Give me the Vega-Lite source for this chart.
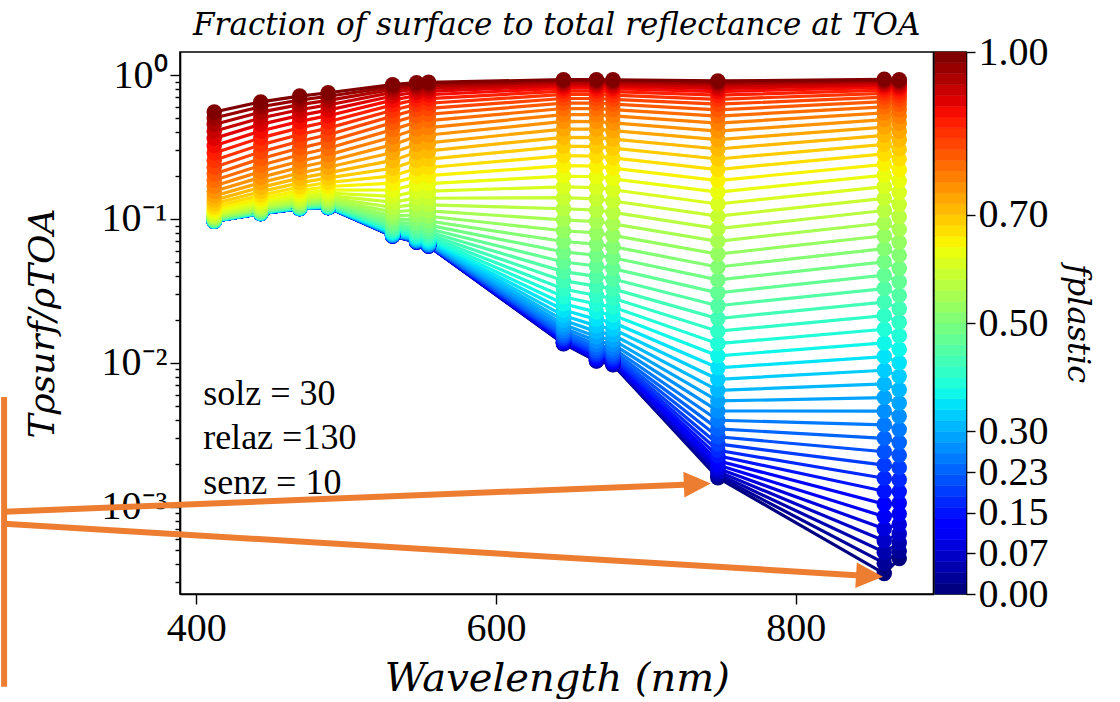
{
  "$schema": "https://vega.github.io/schema/vega-lite/v6.json",
  "background": "white",
  "padding": {"left": 0, "top": 9, "right": 30, "bottom": 0},
  "bounds": "flush",
  "spacing": 1,
  "config": {
    "font": "Liberation Serif",
    "view": {"stroke": "black", "strokeWidth": 1.6},
    "axis": {
      "grid": false,
      "domainColor": "black",
      "domainWidth": 1.6,
      "tickColor": "black",
      "tickWidth": 1.4,
      "labelColor": "black",
      "labelFont": "Liberation Serif",
      "labelFontSize": 40,
      "labelFlush": false,
      "labelOverlap": false,
      "titleColor": "black",
      "titleFont": "DejaVu Serif",
      "titleFontStyle": "italic",
      "titleFontWeight": "normal"
    }
  },
  "datasets": {
    "curves": [
      {"f":0,"wl":412,"r":0.09641},{"f":0,"wl":443,"r":0.10897},{"f":0,"wl":469,"r":0.11801},{"f":0,"wl":488,"r":0.12003},{"f":0,"wl":531,"r":0.07621},{"f":0,"wl":547,"r":0.06916},{"f":0,"wl":555,"r":0.0649},{"f":0,"wl":645,"r":0.013602},{"f":0,"wl":667,"r":0.010303},{"f":0,"wl":678,"r":0.009705},{"f":0,"wl":748,"r":0.0015905},{"f":0,"wl":859,"r":0.00034388},{"f":0,"wl":869,"r":0.00043681},
      {"f":0.0204,"wl":412,"r":0.09642},{"f":0.0204,"wl":443,"r":0.10898},{"f":0.0204,"wl":469,"r":0.11802},{"f":0.0204,"wl":488,"r":0.12004},{"f":0.0204,"wl":531,"r":0.07623},{"f":0.0204,"wl":547,"r":0.06919},{"f":0.0204,"wl":555,"r":0.06493},{"f":0.0204,"wl":645,"r":0.013659},{"f":0.0204,"wl":667,"r":0.01036},{"f":0.0204,"wl":678,"r":0.00976},{"f":0.0204,"wl":748,"r":0.0016349},{"f":0.0204,"wl":859,"r":0.00040628},{"f":0.0204,"wl":869,"r":0.00049251},
      {"f":0.0408,"wl":412,"r":0.09642},{"f":0.0408,"wl":443,"r":0.10898},{"f":0.0408,"wl":469,"r":0.11803},{"f":0.0408,"wl":488,"r":0.12005},{"f":0.0408,"wl":531,"r":0.07626},{"f":0.0408,"wl":547,"r":0.06923},{"f":0.0408,"wl":555,"r":0.06497},{"f":0.0408,"wl":645,"r":0.013729},{"f":0.0408,"wl":667,"r":0.01043},{"f":0.0408,"wl":678,"r":0.009827},{"f":0.0408,"wl":748,"r":0.0016905},{"f":0.0408,"wl":859,"r":0.00048427},{"f":0.0408,"wl":869,"r":0.00056213},
      {"f":0.0612,"wl":412,"r":0.09643},{"f":0.0612,"wl":443,"r":0.10899},{"f":0.0612,"wl":469,"r":0.11804},{"f":0.0612,"wl":488,"r":0.12007},{"f":0.0612,"wl":531,"r":0.0763},{"f":0.0612,"wl":547,"r":0.06927},{"f":0.0612,"wl":555,"r":0.06502},{"f":0.0612,"wl":645,"r":0.013817},{"f":0.0612,"wl":667,"r":0.010519},{"f":0.0612,"wl":678,"r":0.009914},{"f":0.0612,"wl":748,"r":0.00176},{"f":0.0612,"wl":859,"r":0.00058173},{"f":0.0612,"wl":869,"r":0.00064914},
      {"f":0.0816,"wl":412,"r":0.09644},{"f":0.0816,"wl":443,"r":0.10901},{"f":0.0816,"wl":469,"r":0.11806},{"f":0.0816,"wl":488,"r":0.12009},{"f":0.0816,"wl":531,"r":0.07634},{"f":0.0816,"wl":547,"r":0.06933},{"f":0.0816,"wl":555,"r":0.06508},{"f":0.0816,"wl":645,"r":0.013927},{"f":0.0816,"wl":667,"r":0.01063},{"f":0.0816,"wl":678,"r":0.01002},{"f":0.0816,"wl":748,"r":0.0018468},{"f":0.0816,"wl":859,"r":0.00070352},{"f":0.0816,"wl":869,"r":0.00075788},
      {"f":0.102,"wl":412,"r":0.09644},{"f":0.102,"wl":443,"r":0.10902},{"f":0.102,"wl":469,"r":0.11808},{"f":0.102,"wl":488,"r":0.12011},{"f":0.102,"wl":531,"r":0.07639},{"f":0.102,"wl":547,"r":0.0694},{"f":0.102,"wl":555,"r":0.06516},{"f":0.102,"wl":645,"r":0.014065},{"f":0.102,"wl":667,"r":0.010769},{"f":0.102,"wl":678,"r":0.010154},{"f":0.102,"wl":748,"r":0.0019553},{"f":0.102,"wl":859,"r":0.00085574},{"f":0.102,"wl":869,"r":0.00089376},
      {"f":0.1224,"wl":412,"r":0.09646},{"f":0.1224,"wl":443,"r":0.10904},{"f":0.1224,"wl":469,"r":0.1181},{"f":0.1224,"wl":488,"r":0.12014},{"f":0.1224,"wl":531,"r":0.07646},{"f":0.1224,"wl":547,"r":0.06949},{"f":0.1224,"wl":555,"r":0.06525},{"f":0.1224,"wl":645,"r":0.014237},{"f":0.1224,"wl":667,"r":0.010942},{"f":0.1224,"wl":678,"r":0.01032},{"f":0.1224,"wl":748,"r":0.0020908},{"f":0.1224,"wl":859,"r":0.0010459},{"f":0.1224,"wl":869,"r":0.0010636},
      {"f":0.1429,"wl":412,"r":0.09647},{"f":0.1429,"wl":443,"r":0.10906},{"f":0.1429,"wl":469,"r":0.11813},{"f":0.1429,"wl":488,"r":0.12018},{"f":0.1429,"wl":531,"r":0.07655},{"f":0.1429,"wl":547,"r":0.0696},{"f":0.1429,"wl":555,"r":0.06537},{"f":0.1429,"wl":645,"r":0.014452},{"f":0.1429,"wl":667,"r":0.011158},{"f":0.1429,"wl":678,"r":0.010528},{"f":0.1429,"wl":748,"r":0.0022602},{"f":0.1429,"wl":859,"r":0.0012836},{"f":0.1429,"wl":869,"r":0.0012758},
      {"f":0.1633,"wl":412,"r":0.09649},{"f":0.1633,"wl":443,"r":0.10909},{"f":0.1633,"wl":469,"r":0.11817},{"f":0.1633,"wl":488,"r":0.12023},{"f":0.1633,"wl":531,"r":0.07666},{"f":0.1633,"wl":547,"r":0.06975},{"f":0.1633,"wl":555,"r":0.06552},{"f":0.1633,"wl":645,"r":0.01472},{"f":0.1633,"wl":667,"r":0.011428},{"f":0.1633,"wl":678,"r":0.010788},{"f":0.1633,"wl":748,"r":0.0024719},{"f":0.1633,"wl":859,"r":0.0015805},{"f":0.1633,"wl":869,"r":0.0015409},
      {"f":0.1837,"wl":412,"r":0.09651},{"f":0.1837,"wl":443,"r":0.10913},{"f":0.1837,"wl":469,"r":0.11822},{"f":0.1837,"wl":488,"r":0.12029},{"f":0.1837,"wl":531,"r":0.07679},{"f":0.1837,"wl":547,"r":0.06992},{"f":0.1837,"wl":555,"r":0.0657},{"f":0.1837,"wl":645,"r":0.015056},{"f":0.1837,"wl":667,"r":0.011766},{"f":0.1837,"wl":678,"r":0.011114},{"f":0.1837,"wl":748,"r":0.0027363},{"f":0.1837,"wl":859,"r":0.0019514},{"f":0.1837,"wl":869,"r":0.001872},
      {"f":0.2041,"wl":412,"r":0.09655},{"f":0.2041,"wl":443,"r":0.10917},{"f":0.2041,"wl":469,"r":0.11828},{"f":0.2041,"wl":488,"r":0.12036},{"f":0.2041,"wl":531,"r":0.07696},{"f":0.2041,"wl":547,"r":0.07014},{"f":0.2041,"wl":555,"r":0.06594},{"f":0.2041,"wl":645,"r":0.015475},{"f":0.2041,"wl":667,"r":0.012188},{"f":0.2041,"wl":678,"r":0.01152},{"f":0.2041,"wl":748,"r":0.0030668},{"f":0.2041,"wl":859,"r":0.0024146},{"f":0.2041,"wl":869,"r":0.0022857},
      {"f":0.2245,"wl":412,"r":0.09658},{"f":0.2245,"wl":443,"r":0.10923},{"f":0.2245,"wl":469,"r":0.11836},{"f":0.2245,"wl":488,"r":0.12046},{"f":0.2245,"wl":531,"r":0.07717},{"f":0.2245,"wl":547,"r":0.07042},{"f":0.2245,"wl":555,"r":0.06623},{"f":0.2245,"wl":645,"r":0.015998},{"f":0.2245,"wl":667,"r":0.012714},{"f":0.2245,"wl":678,"r":0.012027},{"f":0.2245,"wl":748,"r":0.0034794},{"f":0.2245,"wl":859,"r":0.002993},{"f":0.2245,"wl":869,"r":0.0028023},
      {"f":0.2449,"wl":412,"r":0.09663},{"f":0.2449,"wl":443,"r":0.1093},{"f":0.2449,"wl":469,"r":0.11845},{"f":0.2449,"wl":488,"r":0.12058},{"f":0.2449,"wl":531,"r":0.07743},{"f":0.2449,"wl":547,"r":0.07076},{"f":0.2449,"wl":555,"r":0.06659},{"f":0.2449,"wl":645,"r":0.016651},{"f":0.2449,"wl":667,"r":0.013372},{"f":0.2449,"wl":678,"r":0.01266},{"f":0.2449,"wl":748,"r":0.0039948},{"f":0.2449,"wl":859,"r":0.003715},{"f":0.2449,"wl":869,"r":0.0034473},
      {"f":0.2653,"wl":412,"r":0.0967},{"f":0.2653,"wl":443,"r":0.10939},{"f":0.2653,"wl":469,"r":0.11857},{"f":0.2653,"wl":488,"r":0.12072},{"f":0.2653,"wl":531,"r":0.07776},{"f":0.2653,"wl":547,"r":0.07118},{"f":0.2653,"wl":555,"r":0.06704},{"f":0.2653,"wl":645,"r":0.017467},{"f":0.2653,"wl":667,"r":0.014193},{"f":0.2653,"wl":678,"r":0.013451},{"f":0.2653,"wl":748,"r":0.0046382},{"f":0.2653,"wl":859,"r":0.0046162},{"f":0.2653,"wl":869,"r":0.0042524},
      {"f":0.2857,"wl":412,"r":0.09677},{"f":0.2857,"wl":443,"r":0.1095},{"f":0.2857,"wl":469,"r":0.11872},{"f":0.2857,"wl":488,"r":0.1209},{"f":0.2857,"wl":531,"r":0.07816},{"f":0.2857,"wl":547,"r":0.07172},{"f":0.2857,"wl":555,"r":0.06761},{"f":0.2857,"wl":645,"r":0.018484},{"f":0.2857,"wl":667,"r":0.015217},{"f":0.2857,"wl":678,"r":0.014436},{"f":0.2857,"wl":748,"r":0.0054413},{"f":0.2857,"wl":859,"r":0.0057403},{"f":0.2857,"wl":869,"r":0.0052569},
      {"f":0.3061,"wl":412,"r":0.09686},{"f":0.3061,"wl":443,"r":0.10964},{"f":0.3061,"wl":469,"r":0.11891},{"f":0.3061,"wl":488,"r":0.12113},{"f":0.3061,"wl":531,"r":0.07867},{"f":0.3061,"wl":547,"r":0.07238},{"f":0.3061,"wl":555,"r":0.06831},{"f":0.3061,"wl":645,"r":0.019752},{"f":0.3061,"wl":667,"r":0.016493},{"f":0.3061,"wl":678,"r":0.015666},{"f":0.3061,"wl":748,"r":0.0064435},{"f":0.3061,"wl":859,"r":0.0071418},{"f":0.3061,"wl":869,"r":0.0065097},
      {"f":0.3265,"wl":412,"r":0.09698},{"f":0.3265,"wl":443,"r":0.10982},{"f":0.3265,"wl":469,"r":0.11914},{"f":0.3265,"wl":488,"r":0.12142},{"f":0.3265,"wl":531,"r":0.07931},{"f":0.3265,"wl":547,"r":0.07322},{"f":0.3265,"wl":555,"r":0.0692},{"f":0.3265,"wl":645,"r":0.021333},{"f":0.3265,"wl":667,"r":0.018085},{"f":0.3265,"wl":678,"r":0.017199},{"f":0.3265,"wl":748,"r":0.0076933},{"f":0.3265,"wl":859,"r":0.0088883},{"f":0.3265,"wl":869,"r":0.0080713},
      {"f":0.3469,"wl":412,"r":0.09713},{"f":0.3469,"wl":443,"r":0.11004},{"f":0.3469,"wl":469,"r":0.11943},{"f":0.3469,"wl":488,"r":0.12177},{"f":0.3469,"wl":531,"r":0.0801},{"f":0.3469,"wl":547,"r":0.07425},{"f":0.3469,"wl":555,"r":0.0703},{"f":0.3469,"wl":645,"r":0.023302},{"f":0.3469,"wl":667,"r":0.020067},{"f":0.3469,"wl":678,"r":0.019109},{"f":0.3469,"wl":748,"r":0.0092511},{"f":0.3469,"wl":859,"r":0.011063},{"f":0.3469,"wl":869,"r":0.010016},
      {"f":0.3673,"wl":412,"r":0.09731},{"f":0.3673,"wl":443,"r":0.11031},{"f":0.3673,"wl":469,"r":0.1198},{"f":0.3673,"wl":488,"r":0.12222},{"f":0.3673,"wl":531,"r":0.08109},{"f":0.3673,"wl":547,"r":0.07555},{"f":0.3673,"wl":555,"r":0.07167},{"f":0.3673,"wl":645,"r":0.025752},{"f":0.3673,"wl":667,"r":0.022534},{"f":0.3673,"wl":678,"r":0.021485},{"f":0.3673,"wl":748,"r":0.011192},{"f":0.3673,"wl":859,"r":0.013767},{"f":0.3673,"wl":869,"r":0.012437},
      {"f":0.3878,"wl":412,"r":0.09754},{"f":0.3878,"wl":443,"r":0.11065},{"f":0.3878,"wl":469,"r":0.12025},{"f":0.3878,"wl":488,"r":0.12277},{"f":0.3878,"wl":531,"r":0.08233},{"f":0.3878,"wl":547,"r":0.07716},{"f":0.3878,"wl":555,"r":0.07338},{"f":0.3878,"wl":645,"r":0.028798},{"f":0.3878,"wl":667,"r":0.025599},{"f":0.3878,"wl":678,"r":0.02444},{"f":0.3878,"wl":748,"r":0.013607},{"f":0.3878,"wl":859,"r":0.017127},{"f":0.3878,"wl":869,"r":0.015446},
      {"f":0.4082,"wl":412,"r":0.09782},{"f":0.4082,"wl":443,"r":0.11107},{"f":0.4082,"wl":469,"r":0.12081},{"f":0.4082,"wl":488,"r":0.12347},{"f":0.4082,"wl":531,"r":0.08386},{"f":0.4082,"wl":547,"r":0.07916},{"f":0.4082,"wl":555,"r":0.0755},{"f":0.4082,"wl":645,"r":0.032578},{"f":0.4082,"wl":667,"r":0.029404},{"f":0.4082,"wl":678,"r":0.028107},{"f":0.4082,"wl":748,"r":0.016609},{"f":0.4082,"wl":859,"r":0.021295},{"f":0.4082,"wl":869,"r":0.019182},
      {"f":0.4286,"wl":412,"r":0.09818},{"f":0.4286,"wl":443,"r":0.1116},{"f":0.4286,"wl":469,"r":0.12152},{"f":0.4286,"wl":488,"r":0.12433},{"f":0.4286,"wl":531,"r":0.08578},{"f":0.4286,"wl":547,"r":0.08166},{"f":0.4286,"wl":555,"r":0.07815},{"f":0.4286,"wl":645,"r":0.037262},{"f":0.4286,"wl":667,"r":0.034119},{"f":0.4286,"wl":678,"r":0.032654},{"f":0.4286,"wl":748,"r":0.020336},{"f":0.4286,"wl":859,"r":0.026456},{"f":0.4286,"wl":869,"r":0.023812},
      {"f":0.449,"wl":412,"r":0.09862},{"f":0.449,"wl":443,"r":0.11227},{"f":0.449,"wl":469,"r":0.1224},{"f":0.449,"wl":488,"r":0.12541},{"f":0.449,"wl":531,"r":0.08816},{"f":0.449,"wl":547,"r":0.08476},{"f":0.449,"wl":555,"r":0.08143},{"f":0.449,"wl":645,"r":0.043054},{"f":0.449,"wl":667,"r":0.039949},{"f":0.449,"wl":678,"r":0.038278},{"f":0.449,"wl":748,"r":0.024955},{"f":0.449,"wl":859,"r":0.03283},{"f":0.449,"wl":869,"r":0.029539},
      {"f":0.4694,"wl":412,"r":0.09918},{"f":0.4694,"wl":443,"r":0.11309},{"f":0.4694,"wl":469,"r":0.1235},{"f":0.4694,"wl":488,"r":0.12675},{"f":0.4694,"wl":531,"r":0.09112},{"f":0.4694,"wl":547,"r":0.08861},{"f":0.4694,"wl":555,"r":0.0855},{"f":0.4694,"wl":645,"r":0.050196},{"f":0.4694,"wl":667,"r":0.047137},{"f":0.4694,"wl":678,"r":0.045216},{"f":0.4694,"wl":748,"r":0.030668},{"f":0.4694,"wl":859,"r":0.040682},{"f":0.4694,"wl":869,"r":0.036603},
      {"f":0.4898,"wl":412,"r":0.09987},{"f":0.4898,"wl":443,"r":0.11412},{"f":0.4898,"wl":469,"r":0.12487},{"f":0.4898,"wl":488,"r":0.12843},{"f":0.4898,"wl":531,"r":0.0948},{"f":0.4898,"wl":547,"r":0.09337},{"f":0.4898,"wl":555,"r":0.09054},{"f":0.4898,"wl":645,"r":0.058976},{"f":0.4898,"wl":667,"r":0.055973},{"f":0.4898,"wl":678,"r":0.053749},{"f":0.4898,"wl":748,"r":0.037716},{"f":0.4898,"wl":859,"r":0.05032},{"f":0.4898,"wl":869,"r":0.04529},
      {"f":0.5102,"wl":412,"r":0.10074},{"f":0.5102,"wl":443,"r":0.11541},{"f":0.5102,"wl":469,"r":0.12658},{"f":0.5102,"wl":488,"r":0.13051},{"f":0.5102,"wl":531,"r":0.09935},{"f":0.5102,"wl":547,"r":0.09926},{"f":0.5102,"wl":555,"r":0.09676},{"f":0.5102,"wl":645,"r":0.069724},{"f":0.5102,"wl":667,"r":0.06679},{"f":0.5102,"wl":678,"r":0.064203},{"f":0.5102,"wl":748,"r":0.046383},{"f":0.5102,"wl":859,"r":0.062097},{"f":0.5102,"wl":869,"r":0.055931},
      {"f":0.5306,"wl":412,"r":0.10181},{"f":0.5306,"wl":443,"r":0.11701},{"f":0.5306,"wl":469,"r":0.1287},{"f":0.5306,"wl":488,"r":0.13311},{"f":0.5306,"wl":531,"r":0.10497},{"f":0.5306,"wl":547,"r":0.10651},{"f":0.5306,"wl":555,"r":0.10442},{"f":0.5306,"wl":645,"r":0.082819},{"f":0.5306,"wl":667,"r":0.079967},{"f":0.5306,"wl":678,"r":0.076951},{"f":0.5306,"wl":748,"r":0.057},{"f":0.5306,"wl":859,"r":0.076414},{"f":0.5306,"wl":869,"r":0.068904},
      {"f":0.551,"wl":412,"r":0.10315},{"f":0.551,"wl":443,"r":0.119},{"f":0.551,"wl":469,"r":0.13134},{"f":0.551,"wl":488,"r":0.13632},{"f":0.551,"wl":531,"r":0.1119},{"f":0.551,"wl":547,"r":0.11541},{"f":0.551,"wl":555,"r":0.11373},{"f":0.551,"wl":645,"r":0.09868},{"f":0.551,"wl":667,"r":0.095926},{"f":0.551,"wl":678,"r":0.092405},{"f":0.551,"wl":748,"r":0.069943},{"f":0.551,"wl":859,"r":0.093709},{"f":0.551,"wl":869,"r":0.084626},
      {"f":0.5714,"wl":412,"r":0.10483},{"f":0.5714,"wl":443,"r":0.12148},{"f":0.5714,"wl":469,"r":0.13463},{"f":0.5714,"wl":488,"r":0.14032},{"f":0.5714,"wl":531,"r":0.12042},{"f":0.5714,"wl":547,"r":0.12629},{"f":0.5714,"wl":555,"r":0.12528},{"f":0.5714,"wl":645,"r":0.11775},{"f":0.5714,"wl":667,"r":0.11502},{"f":0.5714,"wl":678,"r":0.11101},{"f":0.5714,"wl":748,"r":0.085631},{"f":0.5714,"wl":859,"r":0.11444},{"f":0.5714,"wl":869,"r":0.10355},
      {"f":0.5918,"wl":412,"r":0.10691},{"f":0.5918,"wl":443,"r":0.12457},{"f":0.5918,"wl":469,"r":0.13868},{"f":0.5918,"wl":488,"r":0.14525},{"f":0.5918,"wl":531,"r":0.13084},{"f":0.5918,"wl":547,"r":0.13951},{"f":0.5918,"wl":555,"r":0.13921},{"f":0.5918,"wl":645,"r":0.14048},{"f":0.5918,"wl":667,"r":0.13798},{"f":0.5918,"wl":678,"r":0.13322},{"f":0.5918,"wl":748,"r":0.10451},{"f":0.5918,"wl":859,"r":0.13905},{"f":0.5918,"wl":869,"r":0.12613},
      {"f":0.6122,"wl":412,"r":0.1095},{"f":0.6122,"wl":443,"r":0.12837},{"f":0.6122,"wl":469,"r":0.1437},{"f":0.6122,"wl":488,"r":0.15134},{"f":0.6122,"wl":531,"r":0.14352},{"f":0.6122,"wl":547,"r":0.1555},{"f":0.6122,"wl":555,"r":0.15601},{"f":0.6122,"wl":645,"r":0.1673},{"f":0.6122,"wl":667,"r":0.16495},{"f":0.6122,"wl":678,"r":0.15947},{"f":0.6122,"wl":748,"r":0.12704},{"f":0.6122,"wl":859,"r":0.16796},{"f":0.6122,"wl":869,"r":0.1528},
      {"f":0.6327,"wl":412,"r":0.11272},{"f":0.6327,"wl":443,"r":0.13309},{"f":0.6327,"wl":469,"r":0.1499},{"f":0.6327,"wl":488,"r":0.15883},{"f":0.6327,"wl":531,"r":0.15886},{"f":0.6327,"wl":547,"r":0.17465},{"f":0.6327,"wl":555,"r":0.1761},{"f":0.6327,"wl":645,"r":0.19856},{"f":0.6327,"wl":667,"r":0.19638},{"f":0.6327,"wl":678,"r":0.19012},{"f":0.6327,"wl":748,"r":0.15366},{"f":0.6327,"wl":859,"r":0.20147},{"f":0.6327,"wl":869,"r":0.18394},
      {"f":0.6531,"wl":412,"r":0.11671},{"f":0.6531,"wl":443,"r":0.13892},{"f":0.6531,"wl":469,"r":0.15752},{"f":0.6531,"wl":488,"r":0.16801},{"f":0.6531,"wl":531,"r":0.17728},{"f":0.6531,"wl":547,"r":0.19742},{"f":0.6531,"wl":555,"r":0.19991},{"f":0.6531,"wl":645,"r":0.23448},{"f":0.6531,"wl":667,"r":0.23249},{"f":0.6531,"wl":678,"r":0.22546},{"f":0.6531,"wl":748,"r":0.18474},{"f":0.6531,"wl":859,"r":0.23974},{"f":0.6531,"wl":869,"r":0.21978},
      {"f":0.6735,"wl":412,"r":0.12164},{"f":0.6735,"wl":443,"r":0.14611},{"f":0.6735,"wl":469,"r":0.16685},{"f":0.6735,"wl":488,"r":0.17921},{"f":0.6735,"wl":531,"r":0.1992},{"f":0.6735,"wl":547,"r":0.22416},{"f":0.6735,"wl":555,"r":0.2278},{"f":0.6735,"wl":645,"r":0.2751},{"f":0.6735,"wl":667,"r":0.27331},{"f":0.6735,"wl":678,"r":0.26548},{"f":0.6735,"wl":748,"r":0.22051},{"f":0.6735,"wl":859,"r":0.28273},{"f":0.6735,"wl":869,"r":0.26039},
      {"f":0.6939,"wl":412,"r":0.12773},{"f":0.6939,"wl":443,"r":0.15494},{"f":0.6939,"wl":469,"r":0.17822},{"f":0.6939,"wl":488,"r":0.1928},{"f":0.6939,"wl":531,"r":0.22501},{"f":0.6939,"wl":547,"r":0.25519},{"f":0.6939,"wl":555,"r":0.26005},{"f":0.6939,"wl":645,"r":0.32018},{"f":0.6939,"wl":667,"r":0.31861},{"f":0.6939,"wl":678,"r":0.31005},{"f":0.6939,"wl":748,"r":0.26105},{"f":0.6939,"wl":859,"r":0.33006},{"f":0.6939,"wl":869,"r":0.30557},
      {"f":0.7143,"wl":412,"r":0.13523},{"f":0.7143,"wl":443,"r":0.16568},{"f":0.7143,"wl":469,"r":0.19204},{"f":0.7143,"wl":488,"r":0.20919},{"f":0.7143,"wl":531,"r":0.25502},{"f":0.7143,"wl":547,"r":0.29065},{"f":0.7143,"wl":555,"r":0.29676},{"f":0.7143,"wl":645,"r":0.36921},{"f":0.7143,"wl":667,"r":0.36786},{"f":0.7143,"wl":678,"r":0.3587},{"f":0.7143,"wl":748,"r":0.30615},{"f":0.7143,"wl":859,"r":0.38112},{"f":0.7143,"wl":869,"r":0.35483},
      {"f":0.7347,"wl":412,"r":0.14442},{"f":0.7347,"wl":443,"r":0.17875},{"f":0.7347,"wl":469,"r":0.20866},{"f":0.7347,"wl":488,"r":0.22868},{"f":0.7347,"wl":531,"r":0.28941},{"f":0.7347,"wl":547,"r":0.33049},{"f":0.7347,"wl":555,"r":0.33782},{"f":0.7347,"wl":645,"r":0.42138},{"f":0.7347,"wl":667,"r":0.42025},{"f":0.7347,"wl":678,"r":0.41065},{"f":0.7347,"wl":748,"r":0.35534},{"f":0.7347,"wl":859,"r":0.43494},{"f":0.7347,"wl":869,"r":0.40738},
      {"f":0.7551,"wl":412,"r":0.15564},{"f":0.7551,"wl":443,"r":0.19452},{"f":0.7551,"wl":469,"r":0.22848},{"f":0.7551,"wl":488,"r":0.2518},{"f":0.7551,"wl":531,"r":0.3282},{"f":0.7551,"wl":547,"r":0.37441},{"f":0.7551,"wl":555,"r":0.38287},{"f":0.7551,"wl":645,"r":0.4756},{"f":0.7551,"wl":667,"r":0.47467},{"f":0.7551,"wl":678,"r":0.46484},{"f":0.7551,"wl":748,"r":0.40781},{"f":0.7551,"wl":859,"r":0.49036},{"f":0.7551,"wl":869,"r":0.46214},
      {"f":0.7755,"wl":412,"r":0.16926},{"f":0.7755,"wl":443,"r":0.21341},{"f":0.7755,"wl":469,"r":0.25191},{"f":0.7755,"wl":488,"r":0.27879},{"f":0.7755,"wl":531,"r":0.3711},{"f":0.7755,"wl":547,"r":0.42182},{"f":0.7755,"wl":555,"r":0.43123},{"f":0.7755,"wl":645,"r":0.53058},{"f":0.7755,"wl":667,"r":0.52983},{"f":0.7755,"wl":678,"r":0.52},{"f":0.7755,"wl":748,"r":0.46249},{"f":0.7755,"wl":859,"r":0.546},{"f":0.7755,"wl":869,"r":0.51782},
      {"f":0.7959,"wl":412,"r":0.18568},{"f":0.7959,"wl":443,"r":0.23581},{"f":0.7959,"wl":469,"r":0.27926},{"f":0.7959,"wl":488,"r":0.30993},{"f":0.7959,"wl":531,"r":0.41759},{"f":0.7959,"wl":547,"r":0.47186},{"f":0.7959,"wl":555,"r":0.48198},{"f":0.7959,"wl":645,"r":0.58497},{"f":0.7959,"wl":667,"r":0.58439},{"f":0.7959,"wl":678,"r":0.57479},{"f":0.7959,"wl":748,"r":0.51812},{"f":0.7959,"wl":859,"r":0.60054},{"f":0.7959,"wl":869,"r":0.5731},
      {"f":0.8163,"wl":412,"r":0.20531},{"f":0.8163,"wl":443,"r":0.26208},{"f":0.8163,"wl":469,"r":0.31078},{"f":0.8163,"wl":488,"r":0.34528},{"f":0.8163,"wl":531,"r":0.46685},{"f":0.8163,"wl":547,"r":0.52342},{"f":0.8163,"wl":555,"r":0.53396},{"f":0.8163,"wl":645,"r":0.63747},{"f":0.8163,"wl":667,"r":0.63703},{"f":0.8163,"wl":678,"r":0.62788},{"f":0.8163,"wl":748,"r":0.57331},{"f":0.8163,"wl":859,"r":0.65268},{"f":0.8163,"wl":869,"r":0.62658},
      {"f":0.8367,"wl":412,"r":0.22856},{"f":0.8367,"wl":443,"r":0.29246},{"f":0.8367,"wl":469,"r":0.34649},{"f":0.8367,"wl":488,"r":0.38464},{"f":0.8367,"wl":531,"r":0.51783},{"f":0.8367,"wl":547,"r":0.57524},{"f":0.8367,"wl":555,"r":0.58589},{"f":0.8367,"wl":645,"r":0.68699},{"f":0.8367,"wl":667,"r":0.68664},{"f":0.8367,"wl":678,"r":0.67812},{"f":0.8367,"wl":748,"r":0.62676},{"f":0.8367,"wl":859,"r":0.70139},{"f":0.8367,"wl":869,"r":0.67715},
      {"f":0.8571,"wl":412,"r":0.25577},{"f":0.8571,"wl":443,"r":0.32711},{"f":0.8571,"wl":469,"r":0.38625},{"f":0.8571,"wl":488,"r":0.42768},{"f":0.8571,"wl":531,"r":0.5693},{"f":0.8571,"wl":547,"r":0.62607},{"f":0.8571,"wl":555,"r":0.63652},{"f":0.8571,"wl":645,"r":0.73261},{"f":0.8571,"wl":667,"r":0.73239},{"f":0.8571,"wl":678,"r":0.7246},{"f":0.8571,"wl":748,"r":0.67728},{"f":0.8571,"wl":859,"r":0.74595},{"f":0.8571,"wl":869,"r":0.72389},
      {"f":0.8776,"wl":412,"r":0.28718},{"f":0.8776,"wl":443,"r":0.36594},{"f":0.8776,"wl":469,"r":0.42962},{"f":0.8776,"wl":488,"r":0.47368},{"f":0.8776,"wl":531,"r":0.62001},{"f":0.8776,"wl":547,"r":0.67473},{"f":0.8776,"wl":555,"r":0.68471},{"f":0.8776,"wl":645,"r":0.77383},{"f":0.8776,"wl":667,"r":0.77366},{"f":0.8776,"wl":678,"r":0.7667},{"f":0.8776,"wl":748,"r":0.72397},{"f":0.8776,"wl":859,"r":0.78588},{"f":0.8776,"wl":869,"r":0.7662},
      {"f":0.898,"wl":412,"r":0.32294},{"f":0.898,"wl":443,"r":0.40857},{"f":0.898,"wl":469,"r":0.47592},{"f":0.898,"wl":488,"r":0.52174},{"f":0.898,"wl":531,"r":0.66876},{"f":0.898,"wl":547,"r":0.72024},{"f":0.898,"wl":555,"r":0.72953},{"f":0.898,"wl":645,"r":0.81037},{"f":0.898,"wl":667,"r":0.81025},{"f":0.898,"wl":678,"r":0.80414},{"f":0.898,"wl":748,"r":0.76626},{"f":0.898,"wl":859,"r":0.82104},{"f":0.898,"wl":869,"r":0.80378},
      {"f":0.9184,"wl":412,"r":0.36287},{"f":0.9184,"wl":443,"r":0.45443},{"f":0.9184,"wl":469,"r":0.52418},{"f":0.9184,"wl":488,"r":0.57073},{"f":0.9184,"wl":531,"r":0.71454},{"f":0.9184,"wl":547,"r":0.76187},{"f":0.9184,"wl":555,"r":0.77035},{"f":0.9184,"wl":645,"r":0.84223},{"f":0.9184,"wl":667,"r":0.84215},{"f":0.9184,"wl":678,"r":0.83686},{"f":0.9184,"wl":748,"r":0.80383},{"f":0.9184,"wl":859,"r":0.85151},{"f":0.9184,"wl":869,"r":0.83661},
      {"f":0.9388,"wl":412,"r":0.40662},{"f":0.9388,"wl":443,"r":0.50264},{"f":0.9388,"wl":469,"r":0.57331},{"f":0.9388,"wl":488,"r":0.61946},{"f":0.9388,"wl":531,"r":0.7566},{"f":0.9388,"wl":547,"r":0.79923},{"f":0.9388,"wl":555,"r":0.80679},{"f":0.9388,"wl":645,"r":0.86962},{"f":0.9388,"wl":667,"r":0.86956},{"f":0.9388,"wl":678,"r":0.86504},{"f":0.9388,"wl":748,"r":0.83664},{"f":0.9388,"wl":859,"r":0.87758},{"f":0.9388,"wl":869,"r":0.86487},
      {"f":0.9592,"wl":412,"r":0.45352},{"f":0.9592,"wl":443,"r":0.55211},{"f":0.9592,"wl":469,"r":0.62209},{"f":0.9592,"wl":488,"r":0.66674},{"f":0.9592,"wl":531,"r":0.79444},{"f":0.9592,"wl":547,"r":0.83214},{"f":0.9592,"wl":555,"r":0.83876},{"f":0.9592,"wl":645,"r":0.89286},{"f":0.9592,"wl":667,"r":0.89282},{"f":0.9592,"wl":678,"r":0.88901},{"f":0.9592,"wl":748,"r":0.86489},{"f":0.9592,"wl":859,"r":0.8996},{"f":0.9592,"wl":869,"r":0.88889},
      {"f":0.9796,"wl":412,"r":0.50266},{"f":0.9796,"wl":443,"r":0.60164},{"f":0.9796,"wl":469,"r":0.66933},{"f":0.9796,"wl":488,"r":0.71154},{"f":0.9796,"wl":531,"r":0.8279},{"f":0.9796,"wl":547,"r":0.86069},{"f":0.9796,"wl":555,"r":0.86641},{"f":0.9796,"wl":645,"r":0.91239},{"f":0.9796,"wl":667,"r":0.91236},{"f":0.9796,"wl":678,"r":0.90917},{"f":0.9796,"wl":748,"r":0.88899},{"f":0.9796,"wl":859,"r":0.91803},{"f":0.9796,"wl":869,"r":0.90913},
      {"f":1,"wl":412,"r":0.5529},{"f":1,"wl":443,"r":0.65002},{"f":1,"wl":469,"r":0.71402},{"f":1,"wl":488,"r":0.75305},{"f":1,"wl":531,"r":0.85699},{"f":1,"wl":547,"r":0.88511},{"f":1,"wl":555,"r":0.88998},{"f":1,"wl":645,"r":0.92864},{"f":1,"wl":667,"r":0.92862},{"f":1,"wl":678,"r":0.92598},{"f":1,"wl":748,"r":0.9091},{"f":1,"wl":859,"r":0.93333},{"f":1,"wl":869,"r":0.92595}
    ],
    "bands": [
      {"lo":0,"hi":0.02,"f":0},{"lo":0.02,"hi":0.04,"f":0.0204},{"lo":0.04,"hi":0.06,"f":0.0408},{"lo":0.06,"hi":0.08,"f":0.0612},{"lo":0.08,"hi":0.1,"f":0.0816},
      {"lo":0.1,"hi":0.12,"f":0.102},{"lo":0.12,"hi":0.14,"f":0.1224},{"lo":0.14,"hi":0.16,"f":0.1429},{"lo":0.16,"hi":0.18,"f":0.1633},{"lo":0.18,"hi":0.2,"f":0.1837},
      {"lo":0.2,"hi":0.22,"f":0.2041},{"lo":0.22,"hi":0.24,"f":0.2245},{"lo":0.24,"hi":0.26,"f":0.2449},{"lo":0.26,"hi":0.28,"f":0.2653},{"lo":0.28,"hi":0.3,"f":0.2857},
      {"lo":0.3,"hi":0.32,"f":0.3061},{"lo":0.32,"hi":0.34,"f":0.3265},{"lo":0.34,"hi":0.36,"f":0.3469},{"lo":0.36,"hi":0.38,"f":0.3673},{"lo":0.38,"hi":0.4,"f":0.3878},
      {"lo":0.4,"hi":0.42,"f":0.4082},{"lo":0.42,"hi":0.44,"f":0.4286},{"lo":0.44,"hi":0.46,"f":0.449},{"lo":0.46,"hi":0.48,"f":0.4694},{"lo":0.48,"hi":0.5,"f":0.4898},
      {"lo":0.5,"hi":0.52,"f":0.5102},{"lo":0.52,"hi":0.54,"f":0.5306},{"lo":0.54,"hi":0.56,"f":0.551},{"lo":0.56,"hi":0.58,"f":0.5714},{"lo":0.58,"hi":0.6,"f":0.5918},
      {"lo":0.6,"hi":0.62,"f":0.6122},{"lo":0.62,"hi":0.64,"f":0.6327},{"lo":0.64,"hi":0.66,"f":0.6531},{"lo":0.66,"hi":0.68,"f":0.6735},{"lo":0.68,"hi":0.7,"f":0.6939},
      {"lo":0.7,"hi":0.72,"f":0.7143},{"lo":0.72,"hi":0.74,"f":0.7347},{"lo":0.74,"hi":0.76,"f":0.7551},{"lo":0.76,"hi":0.78,"f":0.7755},{"lo":0.78,"hi":0.8,"f":0.7959},
      {"lo":0.8,"hi":0.82,"f":0.8163},{"lo":0.82,"hi":0.84,"f":0.8367},{"lo":0.84,"hi":0.86,"f":0.8571},{"lo":0.86,"hi":0.88,"f":0.8776},{"lo":0.88,"hi":0.9,"f":0.898},
      {"lo":0.9,"hi":0.92,"f":0.9184},{"lo":0.92,"hi":0.94,"f":0.9388},{"lo":0.94,"hi":0.96,"f":0.9592},{"lo":0.96,"hi":0.98,"f":0.9796},{"lo":0.98,"hi":1,"f":1}
    ],
    "notes": [
      {"wl":404.6,"r":0.00511,"label":"solz = 30"},
      {"wl":404.6,"r":0.00253,"label":"relaz =130"},
      {"wl":404.6,"r":0.001237,"label":"senz = 10"}
    ],
    "callout": [
      {"wl":271.8,"r":0.005806,"wl2":271.8,"r2":0.0000562},
      {"wl":271.8,"r":0.0009245,"wl2":729.5,"r2":0.0014322},
      {"wl":271.8,"r":0.0007632,"wl2":842.8,"r2":0.0003339}
    ],
    "tips": [
      {"wl":743.3,"r":0.0014512,"band":748},
      {"wl":858.15,"r":0.0003265,"band":859}
    ]
  },
  "hconcat": [
    {
      "width": 753.5,
      "height": 542,
      "title": {
        "text": "Fraction of surface to total reflectance at TOA",
        "font": "DejaVu Serif",
        "fontStyle": "italic",
        "fontWeight": "normal",
        "fontSize": 31,
        "color": "black",
        "anchor": "middle",
        "offset": 10
      },
      "encoding": {
        "x": {
          "field": "wl",
          "type": "quantitative",
          "scale": {"domain": [389.15, 891.85], "nice": false, "zero": false},
          "axis": {
            "values": [400, 600, 800],
            "tickSize": 10,
            "labelPadding": 4,
            "title": "Wavelength (nm)",
            "titleFontSize": 40,
            "titlePadding": 10
          }
        },
        "y": {
          "field": "r",
          "type": "quantitative",
          "scale": {"type": "log", "domain": [0.000248, 1.445], "nice": false},
          "axis": {
            "values": [0.0003, 0.0004, 0.0005, 0.0006, 0.0007, 0.0008, 0.0009, 0.001, 0.002, 0.003, 0.004, 0.005, 0.006, 0.007, 0.008, 0.009, 0.01, 0.02, 0.03, 0.04, 0.05, 0.06, 0.07, 0.08, 0.09, 0.1, 0.2, 0.3, 0.4, 0.5, 0.6, 0.7, 0.8, 0.9, 1],
            "tickSize": {"condition": {"test": "datum.value == 1 || datum.value == 0.1 || datum.value == 0.01 || datum.value == 0.001", "value": 10}, "value": 5},
            "labelExpr": "datum.value == 1 ? '10⁰' : datum.value == 0.1 ? '10⁻¹' : datum.value == 0.01 ? '10⁻²' : datum.value == 0.001 ? '10⁻³' : ''",
            "labelPadding": 3,
            "title": "Tρsurf/ρTOA",
            "titleFontSize": 36,
            "titlePadding": 40
          }
        }
      },
      "layer": [
        {
          "data": {"name": "curves"},
          "mark": {"type": "line", "strokeWidth": 3.2},
          "encoding": {
            "color": {
              "field": "f",
              "type": "quantitative",
              "scale": {
                "domain": [0, 0.11, 0.125, 0.34, 0.35, 0.375, 0.64, 0.65, 0.66, 0.89, 0.91, 1],
                "range": ["#000080", "#0000ff", "#0000ff", "#00dbff", "#00e6f7", "#15ffe2", "#efff08", "#f7f600", "#ffec00", "#ff1300", "#e80000", "#800000"],
                "interpolate": "rgb"
              },
              "legend": null
            },
            "detail": {"field": "f"}
          }
        },
        {
          "data": {"name": "curves"},
          "mark": {"type": "point", "filled": true, "size": 240, "opacity": 1, "strokeWidth": 0},
          "encoding": {
            "color": {
              "field": "f",
              "type": "quantitative",
              "scale": {
                "domain": [0, 0.11, 0.125, 0.34, 0.35, 0.375, 0.64, 0.65, 0.66, 0.89, 0.91, 1],
                "range": ["#000080", "#0000ff", "#0000ff", "#00dbff", "#00e6f7", "#15ffe2", "#efff08", "#f7f600", "#ffec00", "#ff1300", "#e80000", "#800000"],
                "interpolate": "rgb"
              },
              "legend": null
            }
          }
        },
        {
          "data": {"name": "notes"},
          "mark": {"type": "text", "align": "left", "baseline": "alphabetic", "font": "Liberation Serif", "fontSize": 36, "color": "black"},
          "encoding": {"text": {"field": "label"}}
        },
        {
          "data": {"name": "callout"},
          "mark": {"type": "rule", "color": "#ed7d31", "strokeWidth": 6, "strokeCap": "butt"},
          "encoding": {"x2": {"field": "wl2"}, "y2": {"field": "r2"}}
        },
        {
          "data": {"name": "tips"},
          "transform": [{"filter": "datum.band == 748"}],
          "mark": {"type": "point", "shape": "M0,0L-2,-0.95L-2,0.95Z", "filled": true, "size": 729, "color": "#ed7d31", "opacity": 1, "strokeWidth": 0, "angle": -2.28}
        },
        {
          "data": {"name": "tips"},
          "transform": [{"filter": "datum.band == 859"}],
          "mark": {"type": "point", "shape": "M0,0L-2,-0.95L-2,0.95Z", "filled": true, "size": 729, "color": "#ed7d31", "opacity": 1, "strokeWidth": 0, "angle": 3.46}
        }
      ]
    },
    {
      "width": 31,
      "height": 542,
      "data": {"name": "bands"},
      "mark": {"type": "rect", "strokeWidth": 0.5},
      "encoding": {
        "x": {"datum": 0, "type": "quantitative", "scale": {"domain": [0, 1], "nice": false, "zero": false}, "axis": null},
        "x2": {"datum": 1},
        "y": {
          "field": "lo",
          "type": "quantitative",
          "scale": {"domain": [0, 1], "nice": false, "zero": false},
          "axis": {
            "orient": "right",
            "values": [0, 0.075, 0.15, 0.225, 0.3, 0.5, 0.7, 1],
            "format": ".2f",
            "tickSize": 9,
            "labelPadding": 3,
            "title": "fplastic",
            "titleFontSize": 32,
            "titlePadding": 12
          }
        },
        "y2": {"field": "hi"},
        "color": {
          "field": "f",
          "type": "quantitative",
          "scale": {
            "domain": [0, 0.11, 0.125, 0.34, 0.35, 0.375, 0.64, 0.65, 0.66, 0.89, 0.91, 1],
            "range": ["#000080", "#0000ff", "#0000ff", "#00dbff", "#00e6f7", "#15ffe2", "#efff08", "#f7f600", "#ffec00", "#ff1300", "#e80000", "#800000"],
            "interpolate": "rgb"
          },
          "legend": null
        },
        "stroke": {
          "field": "f",
          "type": "quantitative",
          "scale": {
            "domain": [0, 0.11, 0.125, 0.34, 0.35, 0.375, 0.64, 0.65, 0.66, 0.89, 0.91, 1],
            "range": ["#000080", "#0000ff", "#0000ff", "#00dbff", "#00e6f7", "#15ffe2", "#efff08", "#f7f600", "#ffec00", "#ff1300", "#e80000", "#800000"],
            "interpolate": "rgb"
          },
          "legend": null
        }
      }
    }
  ]
}
